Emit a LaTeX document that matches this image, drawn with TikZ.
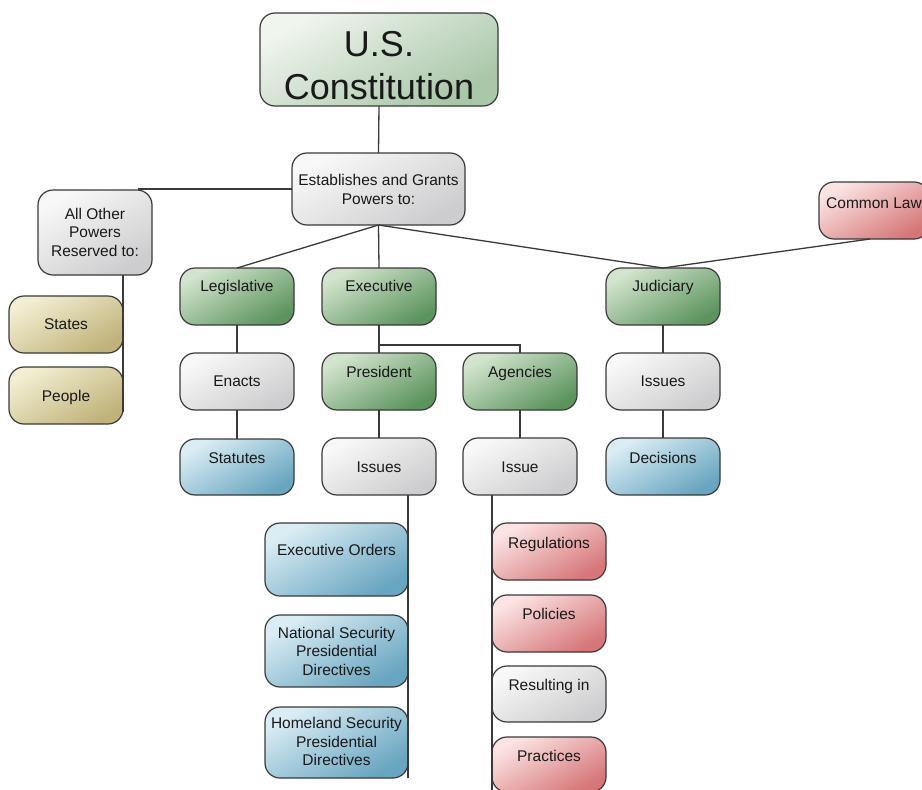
\documentclass[tikz,border=0pt]{standalone}
\usepackage{fontspec}
\setmainfont{Liberation Sans}
\usetikzlibrary{calc}

% fill colours: light / dark end of each gradient
\definecolor{conA}{RGB}{240,245,238}
\definecolor{conB}{RGB}{168,198,168}
\definecolor{grnA}{RGB}{210,228,205}
\definecolor{grnB}{RGB}{92,148,94}
\definecolor{gryA}{RGB}{248,248,248}
\definecolor{gryB}{RGB}{205,205,207}
\definecolor{tanA}{RGB}{242,238,210}
\definecolor{tanB}{RGB}{192,178,120}
\definecolor{bluA}{RGB}{218,237,244}
\definecolor{bluB}{RGB}{104,165,192}
\definecolor{redA}{RGB}{252,228,228}
\definecolor{redB}{RGB}{214,118,120}
\definecolor{edge}{RGB}{58,58,58}
\definecolor{ink}{RGB}{25,25,25}

\tikzset{
  box/.style={draw=edge, line width=1.2pt, rounded corners=15pt,
              inner sep=0pt, outer sep=0pt},
  fillcon/.style={top color=conA, bottom color=conB, shading angle=30},
  fillgrn/.style={top color=grnA, bottom color=grnB, shading angle=30},
  fillgry/.style={top color=gryA, bottom color=gryB, shading angle=30},
  filltan/.style={top color=tanA, bottom color=tanB, shading angle=30},
  fillblu/.style={top color=bluA, bottom color=bluB, shading angle=30},
  fillred/.style={top color=redA, bottom color=redB, shading angle=30},
  lbl/.style={text=ink, inner sep=0pt, anchor=base,
              font=\fontsize{15.5}{18.5}\selectfont},
  mlbl/.style={text=ink, inner sep=0pt, anchor=center, align=center,
              font=\fontsize{15.5}{18.5}\selectfont},
  link/.style={draw=edge, line width=1.3pt}
}

% \bx{name}{fill style}{x1}{y1}{x2}{y2}
\newcommand\bx[6]{%
  \node[box, #2, minimum width=#5pt-#3pt, minimum height=#6pt-#4pt]
    (#1) at ({(#3+#5)/2},{(#4+#6)/2}) {};}

\begin{document}
\begin{tikzpicture}[x=1pt, y=-1pt]
\useasboundingbox (0,0) rectangle (922,790);

% connectors (drawn first, boxes cover their ends)
\coordinate (othT) at (138,189);
\coordinate (othE) at (123,412);
\coordinate (fork) at (378,345);

% boxes
\bx{con}{fillcon}{260}{13}{498}{106}
\bx{est}{fillgry}{292}{153}{465}{225}
\bx{oth}{fillgry}{38}{190}{152}{275}
\bx{com}{fillred}{819}{182}{929}{239}
\bx{leg}{fillgrn}{180}{268}{294}{325}
\bx{exe}{fillgrn}{322}{268}{436}{325}
\bx{jud}{fillgrn}{606}{268}{720}{325}
\bx{sta}{filltan}{9}{296}{123}{353}
\bx{peo}{filltan}{9}{367}{123}{424}
\bx{ena}{fillgry}{180}{353}{294}{410}
\bx{pre}{fillgrn}{322}{353}{436}{410}
\bx{agn}{fillgrn}{463}{353}{577}{410}
\bx{jis}{fillgry}{606}{353}{720}{410}
\bx{stt}{fillblu}{180}{439}{294}{495}
\bx{pis}{fillgry}{322}{438}{436}{495}
\bx{ais}{fillgry}{463}{438}{577}{495}
\bx{dec}{fillblu}{606}{438}{720}{495}
\bx{eo}{fillblu}{265}{523}{408}{596}
\bx{nsp}{fillblu}{265}{615}{408}{687}
\bx{hsp}{fillblu}{265}{707}{408}{778}
\bx{reg}{fillred}{492}{523}{606}{580}
\bx{pol}{fillred}{492}{595}{606}{652}
\bx{res}{fillgry}{492}{666}{606}{722}
\bx{pra}{fillred}{492}{737}{606}{792}

% connectors
\draw[link] (con.south) -- (est.north);
\draw[link] (est.west) -- (othT);
\draw[link] (oth.south -| othE) -- (othE);
\draw[link] (est.south) -- (leg.north);
\draw[link] (est.south) -- (exe.north);
\draw[link] (est.south) -- (jud.north);
\draw[link] (com.south) ++(-4,0) -- (jud.north);
\draw[link] (leg.south) -- (ena.north);
\draw[link] (ena.south) -- (stt.north);
\draw[link] (exe.south) -- (pre.north);
\draw[link] (fork) -| (agn.north);
\draw[link] (pre.south) -- (pis.north);
\draw[link] (agn.south) -- (ais.north);
\draw[link] (jud.south) -- (jis.north);
\draw[link] (jis.south) -- (dec.north);
\draw[link] (pis.south -| hsp.east) -- (hsp.east |- hsp.south);
\draw[link] (ais.south -| reg.west) -- (pra.west |- pra.south);

% labels
\node[text=ink, inner sep=0pt, align=center,
      font=\fontsize{36}{43}\selectfont] (con-t) at (379,65.5) {U.S.\\Constitution};
\node[mlbl] (est-t) at (378.5,189.4) {Establishes and Grants\\Powers to:};
\node[mlbl] (oth-t) at (95,232.4) {All Other\\Powers\\Reserved to:};
\node[lbl] (com-t) at (874,208) {Common Law};
\node[lbl] (leg-t) at (237,291) {Legislative};
\node[lbl] (exe-t) at (379,291) {Executive};
\node[lbl] (jud-t) at (663,291) {Judiciary};
\node[lbl] (sta-t) at (66,329) {States};
\node[lbl] (peo-t) at (66,401) {People};
\node[lbl] (ena-t) at (237,386) {Enacts};
\node[lbl] (pre-t) at (379,377) {President};
\node[lbl] (agn-t) at (520,377) {Agencies};
\node[lbl] (jis-t) at (663,386) {Issues};
\node[lbl] (stt-t) at (237,463) {Statutes};
\node[lbl] (pis-t) at (379,472) {Issues};
\node[lbl] (ais-t) at (520,472) {Issue};
\node[lbl] (dec-t) at (663,463) {Decisions};
\node[lbl] (eo-t) at (336.5,555) {Executive Orders};
\node[mlbl] (nsp-t) at (336.5,651.4) {National Security\\Presidential\\Directives};
\node[mlbl] (hsp-t) at (336.5,741.9) {Homeland Security\\Presidential\\Directives};
\node[lbl] (reg-t) at (549,548) {Regulations};
\node[lbl] (pol-t) at (549,619) {Policies};
\node[lbl] (res-t) at (549,690) {Resulting in};
\node[lbl] (pra-t) at (549,761) {Practices};
\end{tikzpicture}
\end{document}
